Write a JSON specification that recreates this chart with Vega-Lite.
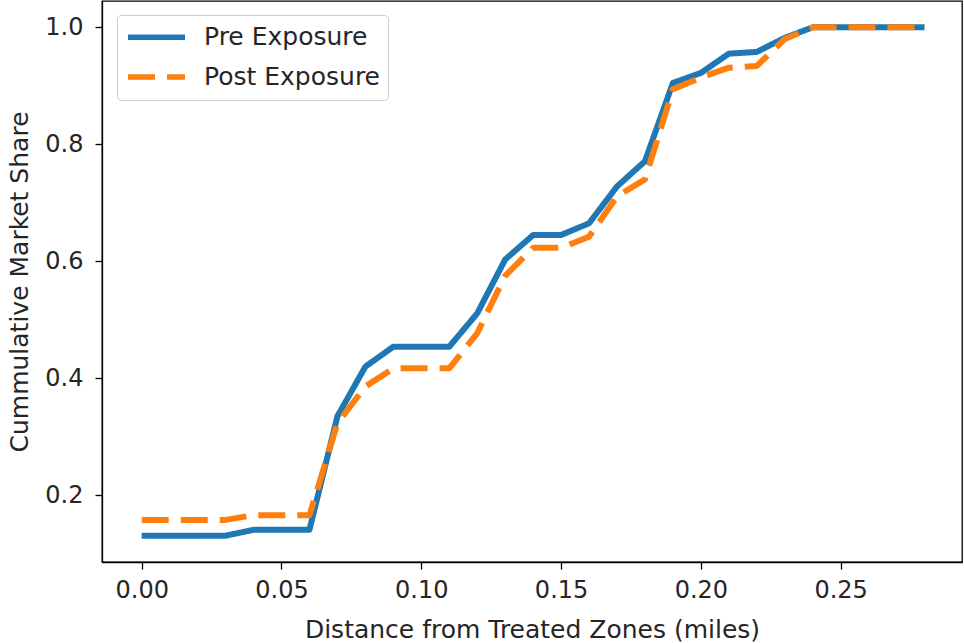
{
  "$schema": "https://vega.github.io/schema/vega-lite/v6.json",
  "width": 860,
  "height": 561,
  "autosize": {"type": "none"},
  "padding": {"left": 102, "top": 1, "right": 2, "bottom": 81},
  "background": "white",
  "config": {
    "font": "DejaVu Sans",
    "view": {"stroke": "black", "strokeWidth": 1.3},
    "axis": {
      "grid": false,
      "domainColor": "black",
      "domainWidth": 1.3,
      "tickColor": "black",
      "tickSize": 7,
      "tickWidth": 1.3,
      "labelFontSize": 24,
      "labelColor": "#262626",
      "titleFontSize": 25,
      "titleFontWeight": "normal",
      "titleColor": "#262626"
    }
  },
  "data": {
    "values": [
      {"x": 0.00, "share": 0.131, "series": "Pre Exposure"},
      {"x": 0.01, "share": 0.131, "series": "Pre Exposure"},
      {"x": 0.02, "share": 0.131, "series": "Pre Exposure"},
      {"x": 0.03, "share": 0.131, "series": "Pre Exposure"},
      {"x": 0.04, "share": 0.141, "series": "Pre Exposure"},
      {"x": 0.05, "share": 0.141, "series": "Pre Exposure"},
      {"x": 0.06, "share": 0.141, "series": "Pre Exposure"},
      {"x": 0.07, "share": 0.335, "series": "Pre Exposure"},
      {"x": 0.08, "share": 0.420, "series": "Pre Exposure"},
      {"x": 0.09, "share": 0.454, "series": "Pre Exposure"},
      {"x": 0.10, "share": 0.454, "series": "Pre Exposure"},
      {"x": 0.11, "share": 0.454, "series": "Pre Exposure"},
      {"x": 0.12, "share": 0.511, "series": "Pre Exposure"},
      {"x": 0.13, "share": 0.603, "series": "Pre Exposure"},
      {"x": 0.14, "share": 0.645, "series": "Pre Exposure"},
      {"x": 0.15, "share": 0.645, "series": "Pre Exposure"},
      {"x": 0.16, "share": 0.665, "series": "Pre Exposure"},
      {"x": 0.17, "share": 0.728, "series": "Pre Exposure"},
      {"x": 0.18, "share": 0.771, "series": "Pre Exposure"},
      {"x": 0.19, "share": 0.905, "series": "Pre Exposure"},
      {"x": 0.20, "share": 0.922, "series": "Pre Exposure"},
      {"x": 0.21, "share": 0.955, "series": "Pre Exposure"},
      {"x": 0.22, "share": 0.958, "series": "Pre Exposure"},
      {"x": 0.23, "share": 0.982, "series": "Pre Exposure"},
      {"x": 0.24, "share": 1.0, "series": "Pre Exposure"},
      {"x": 0.25, "share": 1.0, "series": "Pre Exposure"},
      {"x": 0.26, "share": 1.0, "series": "Pre Exposure"},
      {"x": 0.27, "share": 1.0, "series": "Pre Exposure"},
      {"x": 0.28, "share": 1.0, "series": "Pre Exposure"},
      {"x": 0.00, "share": 0.158, "series": "Post Exposure"},
      {"x": 0.01, "share": 0.158, "series": "Post Exposure"},
      {"x": 0.02, "share": 0.158, "series": "Post Exposure"},
      {"x": 0.03, "share": 0.158, "series": "Post Exposure"},
      {"x": 0.04, "share": 0.166, "series": "Post Exposure"},
      {"x": 0.05, "share": 0.166, "series": "Post Exposure"},
      {"x": 0.06, "share": 0.166, "series": "Post Exposure"},
      {"x": 0.07, "share": 0.323, "series": "Post Exposure"},
      {"x": 0.08, "share": 0.386, "series": "Post Exposure"},
      {"x": 0.09, "share": 0.417, "series": "Post Exposure"},
      {"x": 0.10, "share": 0.417, "series": "Post Exposure"},
      {"x": 0.11, "share": 0.417, "series": "Post Exposure"},
      {"x": 0.12, "share": 0.477, "series": "Post Exposure"},
      {"x": 0.13, "share": 0.575, "series": "Post Exposure"},
      {"x": 0.14, "share": 0.623, "series": "Post Exposure"},
      {"x": 0.15, "share": 0.623, "series": "Post Exposure"},
      {"x": 0.16, "share": 0.642, "series": "Post Exposure"},
      {"x": 0.17, "share": 0.711, "series": "Post Exposure"},
      {"x": 0.18, "share": 0.740, "series": "Post Exposure"},
      {"x": 0.19, "share": 0.894, "series": "Post Exposure"},
      {"x": 0.20, "share": 0.914, "series": "Post Exposure"},
      {"x": 0.21, "share": 0.931, "series": "Post Exposure"},
      {"x": 0.22, "share": 0.934, "series": "Post Exposure"},
      {"x": 0.23, "share": 0.980, "series": "Post Exposure"},
      {"x": 0.24, "share": 1.0, "series": "Post Exposure"},
      {"x": 0.25, "share": 1.0, "series": "Post Exposure"},
      {"x": 0.26, "share": 1.0, "series": "Post Exposure"},
      {"x": 0.27, "share": 1.0, "series": "Post Exposure"},
      {"x": 0.28, "share": 1.0, "series": "Post Exposure"}
    ]
  },
  "encoding": {
    "x": {
      "field": "x", "type": "quantitative",
      "title": "Distance from Treated Zones (miles)",
      "scale": {"domain": [-0.0142, 0.2934], "nice": false, "zero": false},
      "axis": {"values": [0, 0.05, 0.1, 0.15, 0.2, 0.25], "format": ".2f", "labelPadding": 9, "titlePadding": 15}
    },
    "y": {
      "field": "share", "type": "quantitative",
      "title": "Cummulative Market Share",
      "scale": {"domain": [0.086, 1.045], "nice": false, "zero": false},
      "axis": {"values": [0.2, 0.4, 0.6, 0.8, 1.0], "format": ".1f", "labelPadding": 12, "titlePadding": 12}
    },
    "color": {
      "field": "series", "type": "nominal",
      "scale": {"domain": ["Pre Exposure", "Post Exposure"], "range": ["#1f77b4", "#ff7f0e"]},
      "legend": {
        "title": null,
        "orient": "none",
        "legendX": 15,
        "legendY": 14,
        "symbolType": "stroke",
        "symbolSize": 3249,
        "symbolStrokeWidth": 5.5,
        "clipHeight": 28.6,
        "labelFontSize": 25,
        "labelColor": "#262626",
        "labelLimit": 400,
        "labelOffset": 16,
        "padding": 8,
        "rowPadding": 10.8,
        "strokeColor": "#cccccc",
        "fillColor": "white",
        "cornerRadius": 4
      }
    },
    "strokeDash": {
      "field": "series", "type": "nominal",
      "scale": {"domain": ["Pre Exposure", "Post Exposure"], "range": [[1, 0], [27, 12]]},
      "legend": null
    }
  },
  "layer": [
    {
      "transform": [{"filter": "datum.series === 'Pre Exposure'"}],
      "mark": {"type": "line", "strokeWidth": 6, "strokeCap": "butt", "strokeJoin": "round"}
    },
    {
      "transform": [{"filter": "datum.series === 'Post Exposure'"}],
      "mark": {"type": "line", "strokeWidth": 6, "strokeCap": "butt", "strokeJoin": "round"}
    }
  ]
}
